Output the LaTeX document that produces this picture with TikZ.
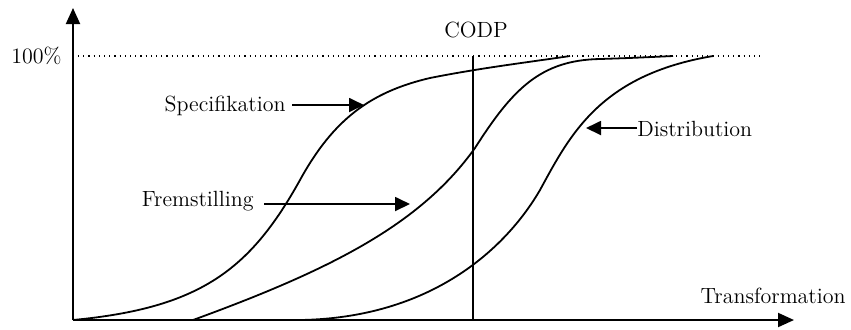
\documentclass[tikz,border=0pt]{standalone}
\usetikzlibrary{arrows.meta}
\begin{document}
\begin{tikzpicture}[x=0.5pt,y=-0.5pt,
  lbl/.style={inner sep=0pt,font=\fontsize{11}{12}\selectfont},
  ax/.style={line width=1pt,-{Triangle[length=8pt,width=7pt]}},
  curve/.style={line width=0.9pt},
  pointer/.style={line width=0.9pt,-{Triangle[length=7.5pt,width=7pt]}}]
\useasboundingbox (0,0) rectangle (851,329);
% axes
\coordinate (O) at (73,320);
\coordinate (ytop) at (73,8);
\coordinate (xend) at (794,320);
\draw[ax] (O) -- (ytop);
\draw[ax] (O) -- (xend);
% 100% dotted line
\coordinate (d0) at (78,56);
\coordinate (d1) at (760,56);
\draw[line width=0.6pt,dotted] (d0) -- (d1);
\node[lbl,anchor=east] (pct) at (62,56) {100\%};
% CODP
\node[lbl] (codp) at (476,30) {CODP};
\coordinate (c0) at (473,56);
\coordinate (c1) at (473,320);
\draw[line width=0.8pt] (c0) -- (c1);
% curves
\draw[curve] (73,320) .. controls (200,308) and (250,270) .. (300,180)
  .. controls (333,120) and (370,92) .. (430,78)
  .. controls (480,68) and (530,62) .. (570,56);
\draw[curve] (193,320) .. controls (330,270) and (420,225) .. (475,148)
  .. controls (512,90) and (540,60) .. (600,59)
  .. controls (630,58) .. (673,56);
\draw[curve] (300,320) .. controls (430,318) and (505,250) .. (540,190)
  .. controls (570,135) and (600,75) .. (713,56);
% labels and pointers
\node[lbl,anchor=east] (spec) at (286,106) {Specifikation};
\coordinate (specTip) at (364,105);
\coordinate (specTail) at (292,105);
\draw[pointer] (specTail) -- (specTip);
\node[lbl,anchor=east] (frem) at (254,201) {Fremstilling};
\coordinate (fremTip) at (410,204);
\coordinate (fremTail) at (264,204);
\draw[pointer] (fremTail) -- (fremTip);
\node[lbl,anchor=west] (dist) at (637,129) {Distribution};
\coordinate (distTip) at (586,128);
\draw[pointer] (dist.west |- distTip) -- (distTip);
\node[lbl,anchor=east] (trans) at (846,296) {Transformation};
\end{tikzpicture}
\end{document}
